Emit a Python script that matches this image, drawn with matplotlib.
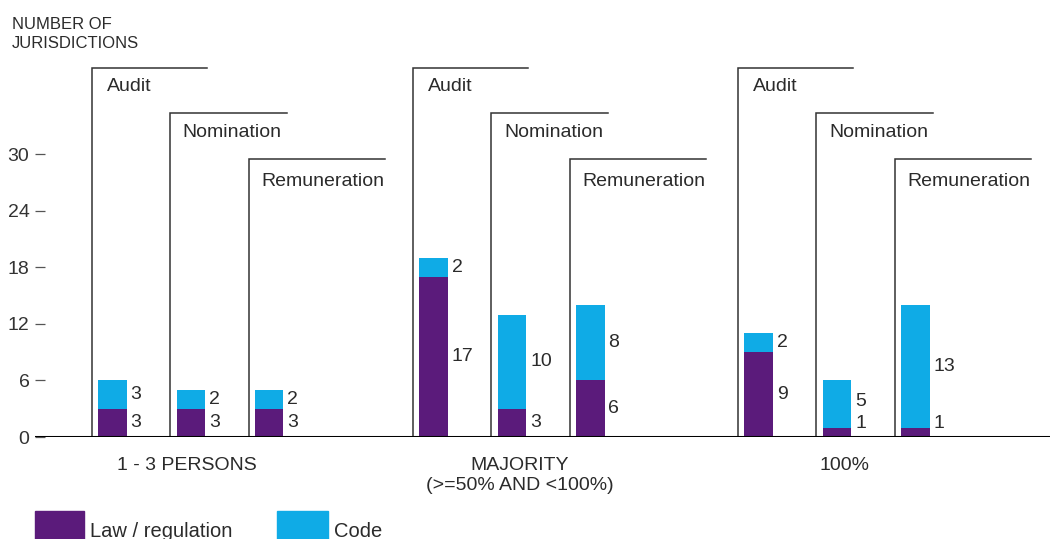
import matplotlib
matplotlib.use("Agg")
import matplotlib.pyplot as plt
from matplotlib.patches import Rectangle

# data
groups = ["1 - 3 PERSONS", "MAJORITY\n(>=50% AND <100%)", "100%"]
committees = ["Audit", "Nomination", "Remuneration"]
law = [[3, 3, 3], [17, 3, 6], [9, 1, 1]]
code = [[3, 2, 2], [2, 10, 8], [2, 5, 13]]
yticks = [0, 6, 12, 18, 24, 30]

# style
purple = "#5b1b7b"
cyan = "#0fabe6"
txt = "#2b2b2b"
plt.rcParams["font.family"] = ["Liberation Sans", "DejaVu Sans"]
plt.rcParams["font.size"] = 14

group_offsets = [0, 4.1, 8.25]
bar_w = 0.364
frame_dx = -0.262
frame_top = [39.2, 34.4, 29.5]
frame_len = [1.47, 1.49, 1.74]
label_y = [37.2, 32.3, 27.1]

fig = plt.figure(figsize=(10.5, 5.39), dpi=100)
ax = fig.add_axes([35 / 1050, (539 - 437) / 539, 1015 / 1050, 0.734])
ax.set_xlim(-0.99, 11.97)
ax.set_ylim(0, 42)

for g in range(3):
    for i in range(3):
        x = group_offsets[g] + i
        l, c = law[g][i], code[g][i]
        ax.bar(x, l, width=bar_w, color=purple, zorder=3)
        ax.bar(x, c, width=bar_w, bottom=l, color=cyan, zorder=3)

        # value labels to the right of bars
        ly = max(l / 2, 1.4)
        cy = max(l + c / 2, ly + 2.4)
        ax.text(x + bar_w / 2 + 0.05, ly, str(l), va="center", ha="left",
                color=txt, fontsize=14)
        ax.text(x + bar_w / 2 + 0.05, cy, str(c), va="center", ha="left",
                color=txt, fontsize=14)

        # bracket frame with committee name
        fx = x + frame_dx
        ax.plot([fx, fx, fx + frame_len[i]], [0, frame_top[i], frame_top[i]],
                color="#333333", lw=1.1, zorder=2, solid_joinstyle="miter")
        ax.text(fx + (0.19 if i == 0 else 0.16), label_y[i], committees[i],
                va="center", ha="left", color=txt, fontsize=14)

    ax.text(group_offsets[g] + 1 + (-0.05 if g == 0 else 0.1), -2.1, groups[g],
            ha="center", va="top", color=txt, fontsize=14, linespacing=1.25)

ax.axhline(0, color="black", lw=2.2, zorder=4)
for s in ["top", "right", "bottom", "left"]:
    ax.spines[s].set_visible(False)
ax.set_xticks([])
ax.set_yticks(yticks)
ax.tick_params(axis="y", direction="in", length=7, width=0.9, color="#555555",
               labelcolor="#333333", labelsize=14, pad=4)
ax.patch.set_alpha(0)

fig.text(12 / 1050, 1 - 34 / 539, "NUMBER OF\nJURISDICTIONS", ha="left",
         va="center", fontsize=12, color=txt, linespacing=1.35)

# legend
fig.add_artist(Rectangle((35 / 1050, -0.02), 49 / 1050, 28 / 539 + 0.02,
                         transform=fig.transFigure, color=purple))
fig.add_artist(Rectangle((277 / 1050, -0.02), 51 / 1050, 28 / 539 + 0.02,
                         transform=fig.transFigure, color=cyan))
fig.text(90 / 1050, 2 / 539, "Law / regulation", ha="left", va="baseline",
         fontsize=14.5, color=txt)
fig.text(334 / 1050, 2 / 539, "Code", ha="left", va="baseline",
         fontsize=14.5, color=txt)

plt.savefig("out.png", dpi=100)
